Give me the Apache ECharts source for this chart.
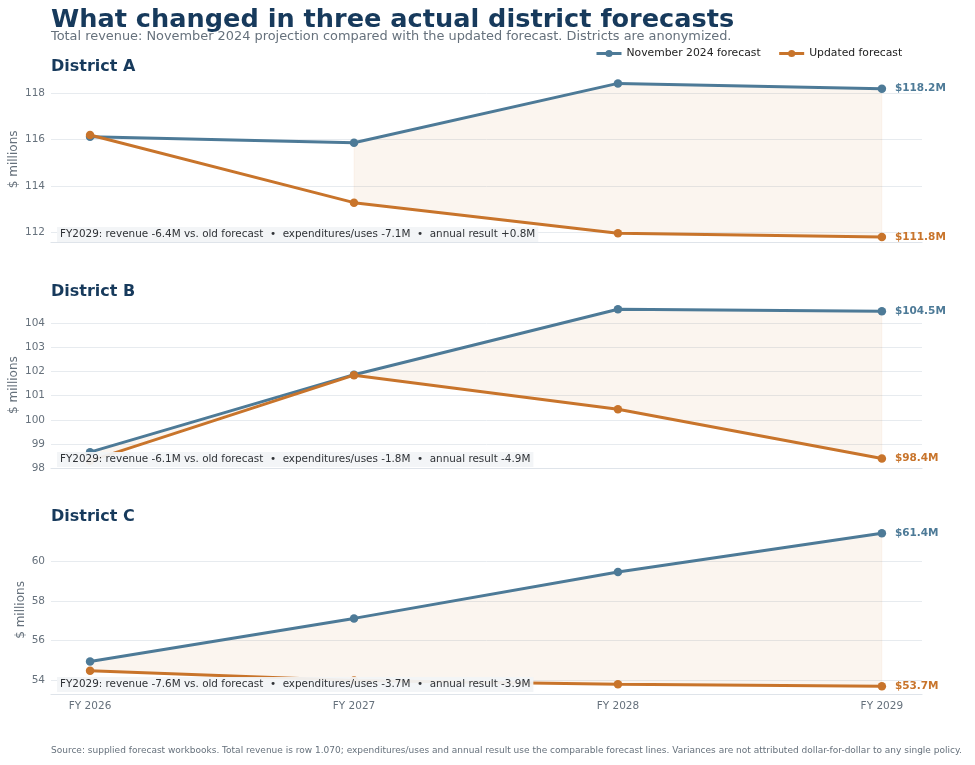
<!DOCTYPE html>
<html><head><meta charset="utf-8">
<script src="https://cdn.jsdelivr.net/npm/echarts@6/dist/echarts.min.js"></script>
<style>html,body{margin:0;padding:0;background:#fff}#c{width:975px;height:765px}</style>
</head><body><div id="c"></div>
<script>
// ---- data ----
const years = ['FY 2026', 'FY 2027', 'FY 2028', 'FY 2029'];
const districtNames = ['District A', 'District B', 'District C'];
const seriesNames = ['November 2024 forecast', 'Updated forecast'];
const oldA = [116.13, 115.87, 118.43, 118.2];
const newA = [116.2, 113.28, 111.96, 111.8];
const oldB = [98.66, 101.87, 104.58, 104.5];
const newB = [98.3, 101.85, 100.44, 98.4];
const oldC = [54.95, 57.12, 59.46, 61.4];
const newC = [54.48, 54.0, 53.8, 53.7];
const ticksA = [112, 114, 116, 118];
const ticksB = [98, 99, 100, 101, 102, 103, 104];
const ticksC = [54, 56, 58, 60];
const notes = [
  'FY2029: revenue -6.4M vs. old forecast  \u2022  expenditures/uses -7.1M  \u2022  annual result +0.8M',
  'FY2029: revenue -6.1M vs. old forecast  \u2022  expenditures/uses -1.8M  \u2022  annual result -4.9M',
  'FY2029: revenue -7.6M vs. old forecast  \u2022  expenditures/uses -3.7M  \u2022  annual result -3.9M'
];
const titleText = 'What changed in three actual district forecasts';
const subtitleText = 'Total revenue: November 2024 projection compared with the updated forecast. Districts are anonymized.';
const sourceText = 'Source: supplied forecast workbooks. Total revenue is row 1.070; expenditures/uses and annual result use the comparable forecast lines. Variances are not attributed dollar-for-dollar to any single policy.';

// ---- layout / style ----
const FONT = 'DejaVu Sans';
const BLUE = '#4d7a97';
const ORANGE = '#c8742b';
const NAVY = '#173a5c';
const GRAY = '#66717c';
const panels = [
  { name: districtNames[0], note: notes[0], old: oldA, upd: newA, ticks: ticksA, min: 111.55, max: 118.75, top: 76, h: 166.7, nameGap: 31, titleTop: 59, noteTop: 227 },
  { name: districtNames[1], note: notes[1], old: oldB, upd: newB, ticks: ticksB, min: 97.99, max: 104.89, top: 301.8, h: 166.5, nameGap: 31, titleTop: 284, noteTop: 452 },
  { name: districtNames[2], note: notes[2], old: oldC, upd: newC, ticks: ticksC, min: 53.3, max: 61.79, top: 525.6, h: 168.7, nameGap: 24, titleTop: 509, noteTop: 677 }
];

function bandRender(old, upd) {
  return function (params, api) {
    const a = api.value(0), b = api.value(1);
    const top = [], bot = [];
    for (let k = a; k <= b; k++) {
      top.push(api.coord([k, old[k]]));
      bot.unshift(api.coord([k, upd[k]]));
    }
    return { type: 'polygon', shape: { points: top.concat(bot) },
      style: { fill: 'rgba(200,116,43,0.075)', stroke: 'rgba(200,116,43,0.06)', lineWidth: 1 } };
  };
}

const grids = [], xAxes = [], yAxes = [], series = [], titles = [];
titles.push({ text: titleText, left: 51, top: 7, padding: 0,
  textStyle: { fontFamily: FONT, fontSize: 25.6, fontWeight: 'bold', color: NAVY } });
titles.push({ text: subtitleText, left: 51, top: 30, padding: 0,
  textStyle: { fontFamily: FONT, fontSize: 12.9, fontWeight: 'normal', color: GRAY } });
titles.push({ text: sourceText, left: 51, top: 746, padding: 0,
  textStyle: { fontFamily: FONT, fontSize: 9, fontWeight: 'normal', color: GRAY } });

panels.forEach((p, i) => {
  grids.push({ left: 51, right: 53, top: p.top, height: p.h, outerBoundsMode: 'none', containLabel: false });
  titles.push({ text: p.name, left: 51, top: p.titleTop, padding: 0,
    textStyle: { fontFamily: FONT, fontSize: 16, fontWeight: 'bold', color: NAVY } });
  titles.push({ text: p.note, left: 57, top: p.noteTop, padding: [1, 3, 1, 3], z: 10,
    backgroundColor: 'rgba(242,244,246,0.94)',
    textStyle: { fontFamily: FONT, fontSize: 10.4, lineHeight: 13, fontWeight: 'normal', color: '#2f3236' } });
  xAxes.push({
    type: 'value', gridIndex: i, min: -0.148, max: 3.152,
    axisLine: { show: true, onZero: false, lineStyle: { color: '#dfe4ea', width: 1.2 } },
    axisTick: { show: false, customValues: [0, 1, 2, 3] },
    splitLine: { show: false },
    axisLabel: { show: i === 2, customValues: [0, 1, 2, 3], formatter: v => years[Math.round(v)] || '',
      color: GRAY, fontFamily: FONT, fontSize: 10.5, margin: 6 }
  });
  yAxes.push({
    type: 'value', gridIndex: i, min: p.min, max: p.max,
    axisLine: { show: false }, axisTick: { show: false, customValues: p.ticks },
    axisLabel: { customValues: p.ticks, color: GRAY, fontFamily: FONT, fontSize: 10.5, margin: 6 },
    splitLine: { show: true, lineStyle: { color: '#e7ebef', width: 1 } },
    name: '$ millions', nameLocation: 'middle', nameGap: p.nameGap, nameRotate: 90,
    nameMoveOverlap: false,
    nameTextStyle: { color: GRAY, fontFamily: FONT, fontSize: 12 }
  });
  // contiguous runs where the old forecast is above the updated one
  const runs = [];
  let start = -1;
  for (let k = 0; k < p.old.length; k++) {
    const ok = p.old[k] > p.upd[k];
    if (ok && start < 0) start = k;
    if ((!ok || k === p.old.length - 1) && start >= 0) {
      const end = ok ? k : k - 1;
      if (end > start) runs.push([start, end]);
      start = -1;
    }
  }
  series.push({ type: 'custom', xAxisIndex: i, yAxisIndex: i, silent: true, z: 1,
    renderItem: bandRender(p.old, p.upd), encode: { x: [0, 1] }, data: runs });
  [[p.old, BLUE, seriesNames[0]], [p.upd, ORANGE, seriesNames[1]]].forEach(([vals, col, nm], j) => {
    series.push({
      type: 'line', name: nm, xAxisIndex: i, yAxisIndex: i, z: 3 + j,
      data: vals.map((v, k) => [k, v]),
      color: col, lineStyle: { width: 3, color: col }, itemStyle: { color: col },
      symbol: 'circle', symbolSize: 8.5, showSymbol: true,
      endLabel: { show: true, distance: 13, formatter: prm => '$' + prm.value[1].toFixed(1) + 'M',
        color: col, fontFamily: FONT, fontWeight: 'bold', fontSize: 10.5 }
    });
  });
});

const chart = echarts.init(document.getElementById('c'));
chart.setOption({
  animation: false,
  backgroundColor: '#ffffff',
  title: titles,
  legend: { data: seriesNames, left: 590, top: 43, itemWidth: 25, itemHeight: 9, itemGap: 17,
    lineStyle: { width: 3 },
    textStyle: { fontFamily: FONT, fontSize: 10.8, color: '#222' } },
  grid: grids, xAxis: xAxes, yAxis: yAxes, series: series
});
</script></body></html>
